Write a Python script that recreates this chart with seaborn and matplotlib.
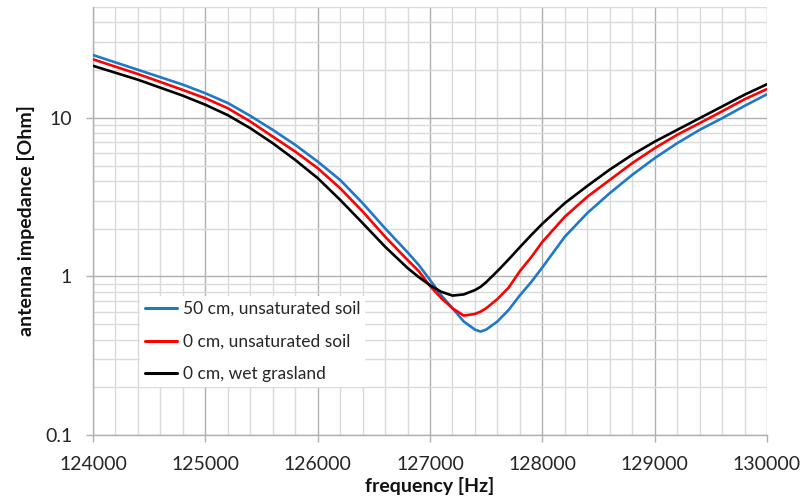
import numpy as np
import pandas as pd
import matplotlib
matplotlib.use("Agg")
import matplotlib.pyplot as plt
from matplotlib.ticker import FixedLocator, MultipleLocator, LogLocator, FuncFormatter, NullFormatter
import seaborn as sns

# Frequency sweep [Hz]
freq = [124000, 124400, 124800, 125000, 125200, 125400, 125600, 125800,
        126000, 126200, 126400, 126600, 126800, 126900, 127000, 127100,
        127200, 127300, 127400, 127450, 127500, 127600, 127700, 127800,
        127900, 128000, 128200, 128400, 128600, 128800, 129000, 129200,
        129400, 129600, 129800, 130000]

# Antenna impedance [Ohm] for each installation
z_50cm_unsat = [24.9, 20.1, 16.2, 14.3, 12.4, 10.3, 8.4, 6.76,
                5.30, 4.06, 2.90, 2.01, 1.42, 1.18, 0.95, 0.76,
                0.63, 0.52, 0.462, 0.449, 0.462, 0.52, 0.615, 0.76,
                0.92, 1.14, 1.78, 2.51, 3.35, 4.37, 5.57, 6.92,
                8.4, 9.95, 11.9, 14.1]
z_0cm_unsat = [23.4, 18.9, 15.0, 13.3, 11.5, 9.48, 7.62, 6.13,
               4.82, 3.60, 2.57, 1.78, 1.27, 1.08, 0.87, 0.73,
               0.63, 0.566, 0.58, 0.60, 0.63, 0.72, 0.85, 1.08,
               1.32, 1.65, 2.38, 3.18, 4.06, 5.18, 6.44, 7.82,
               9.26, 11.0, 13.1, 15.2]
z_0cm_wet = [21.3, 17.4, 13.8, 12.1, 10.4, 8.61, 6.92, 5.43,
             4.17, 3.04, 2.17, 1.54, 1.13, 0.99, 0.88, 0.80,
             0.757, 0.77, 0.82, 0.86, 0.92, 1.08, 1.28, 1.53,
             1.82, 2.15, 2.90, 3.72, 4.72, 5.85, 7.08, 8.40,
             9.95, 11.8, 14.0, 16.3]

series_names = ["50 cm, unsaturated soil", "0 cm, unsaturated soil", "0 cm, wet grasland"]
series_colors = ["#1f78c8", "#ff0000", "#000000"]

df = pd.concat([
    pd.DataFrame({"freq": freq, "imp": vals, "series": name})
    for name, vals in zip(series_names, [z_50cm_unsat, z_0cm_unsat, z_0cm_wet])
], ignore_index=True)

sns.set_style("white")
plt.rcParams["font.family"] = ["Lato", "DejaVu Sans"]

fig = plt.figure(figsize=(8.04, 5.03), dpi=100)
ax = fig.add_axes([0.1157, 0.1352, 0.8383, 0.8508])

sns.lineplot(data=df, x="freq", y="imp", hue="series", hue_order=series_names,
             palette=series_colors, estimator=None, linewidth=1.9, ax=ax,
             zorder=3)

ax.set_yscale("log")
ax.set_xlim(124000, 130000)
ax.set_ylim(0.1, 50)

ax.xaxis.set_major_locator(MultipleLocator(1000))
ax.xaxis.set_minor_locator(MultipleLocator(200))
ax.yaxis.set_major_locator(FixedLocator([0.1, 1, 10]))
ax.yaxis.set_minor_locator(LogLocator(base=10, subs=np.arange(2, 10), numticks=20))
ax.yaxis.set_major_formatter(FuncFormatter(lambda v, _: f"{v:g}"))
ax.yaxis.set_minor_formatter(NullFormatter())
ax.xaxis.set_major_formatter(FuncFormatter(lambda v, _: f"{int(v)}"))

ax.grid(which="major", color="#b0b0b0", linewidth=1.0)
ax.grid(which="minor", color="#dadada", linewidth=1.0)
ax.set_axisbelow(True)

for side in ["top", "right"]:
    ax.spines[side].set_visible(False)
for side in ["left", "bottom"]:
    ax.spines[side].set_color("#b0b0b0")
    ax.spines[side].set_linewidth(1.0)

ax.tick_params(which="major", direction="out", length=5, width=1.0,
               color="#b0b0b0", labelsize=14, labelcolor="#262626", pad=10,
               left=True, bottom=True)
ax.tick_params(which="minor", length=0)

ax.set_xlabel("frequency [Hz]", fontsize=14, fontweight="bold", color="#111111", labelpad=3)
ax.set_ylabel("antenna impedance [Ohm]", fontsize=14, fontweight="bold", color="#111111", labelpad=7)

leg = ax.legend(loc="upper left", bbox_to_anchor=(0.0697, 0.325), borderaxespad=0,
                frameon=True, fontsize=12.5, handlelength=1.85, handletextpad=0.3,
                labelspacing=0.95, borderpad=0.3, fancybox=False)
leg.get_frame().set_facecolor("white")
leg.get_frame().set_edgecolor("none")
leg.get_frame().set_alpha(1.0)
for line in leg.get_lines():
    line.set_linewidth(2.2)
for text in leg.get_texts():
    text.set_color("#262626")

fig.savefig("out.png", dpi=100)
